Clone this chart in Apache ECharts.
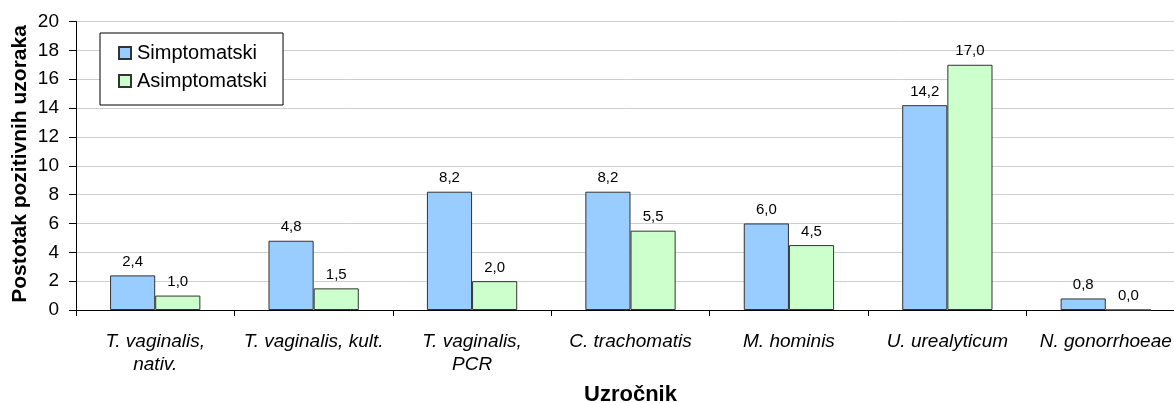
<!DOCTYPE html>
<html>
<head>
<meta charset="utf-8">
<script src="https://cdn.jsdelivr.net/npm/echarts@6/dist/echarts.min.js"></script>
<style>
  html, body { margin: 0; padding: 0; background: #fff; }
  #chart { width: 1174px; height: 403px; }
</style>
</head>
<body>
<div id="chart"></div>
<script>
// Pathogen categories and percentage of positive samples per group
const categories = [
  'T. vaginalis,\nnativ.',
  'T. vaginalis, kult.',
  'T. vaginalis,\nPCR',
  'C. trachomatis',
  'M. hominis',
  'U. urealyticum',
  'N. gonorrhoeae'
];
const simptomatski = [2.4, 4.8, 8.2, 8.2, 6.0, 14.2, 0.8];
const asimptomatski = [1.0, 1.5, 2.0, 5.5, 4.5, 17.0, 0.0];
const yTicks = { min: 0, max: 20, interval: 2 };
const yTitle = 'Postotak pozitivnih uzoraka';
const xTitle = 'Uzročnik';

const font = '"Liberation Sans", Arial, sans-serif';
const fmt = p => p.value.toFixed(1).replace('.', ',');

const chart = echarts.init(document.getElementById('chart'), null, { renderer: 'canvas' });
chart.setOption({
  animation: false,
  textStyle: { fontFamily: font },
  // plot area runs slightly past the right edge of the page
  grid: { left: 76, width: 1109, top: 21.5, bottom: 93, containLabel: false, outerBoundsMode: 'none' },
  // vertical axis title, placed beside the tick labels
  graphic: [{
    type: 'text',
    x: 20, y: 164,
    rotation: Math.PI / 2,
    style: {
      text: yTitle,
      fontFamily: font, fontSize: 21, fontWeight: 'bold', fill: '#000',
      textAlign: 'center', textVerticalAlign: 'middle'
    }
  }],
  legend: {
    left: 100, top: 33,
    orient: 'vertical',
    padding: [10, 16, 14, 18],
    itemGap: 8,
    itemWidth: 12, itemHeight: 12,
    borderColor: '#000', borderWidth: 1,
    backgroundColor: '#fff',
    textStyle: { fontFamily: font, fontSize: 20, color: '#000', padding: [0, 0, 0, 1] },
    data: [
      { name: 'Simptomatski', icon: 'rect' },
      { name: 'Asimptomatski', icon: 'rect' }
    ]
  },
  xAxis: {
    type: 'category',
    data: categories,
    name: xTitle,
    nameLocation: 'middle',
    nameGap: 74,
    nameTextStyle: { fontFamily: font, fontSize: 22, fontWeight: 'bold', color: '#000' },
    axisLine: { lineStyle: { color: '#000', width: 1 } },
    axisTick: { show: true, length: 6, lineStyle: { color: '#000' } },
    axisLabel: {
      fontFamily: font, fontSize: 19, fontStyle: 'italic', color: '#000',
      margin: 20, lineHeight: 23, interval: 0
    }
  },
  yAxis: {
    type: 'value',
    min: yTicks.min, max: yTicks.max, interval: yTicks.interval,
    axisLine: { show: true, lineStyle: { color: '#000', width: 1 } },
    axisTick: { show: true, length: 7, lineStyle: { color: '#000' } },
    axisLabel: { fontFamily: font, fontSize: 19, color: '#000', margin: 17 },
    splitLine: { lineStyle: { color: '#cfcfcf', width: 1 } }
  },
  series: [
    {
      name: 'Simptomatski',
      type: 'bar',
      data: simptomatski,
      barGap: '0%',
      barCategoryGap: '43%',
      itemStyle: { color: '#99CCFF', borderColor: '#333', borderWidth: 1 },
      label: { show: true, position: 'top', distance: 6, formatter: fmt, fontFamily: font, fontSize: 15, color: '#000' }
    },
    {
      name: 'Asimptomatski',
      type: 'bar',
      data: asimptomatski,
      itemStyle: { color: '#CCFFCC', borderColor: '#333', borderWidth: 1 },
      label: { show: true, position: 'top', distance: 6, formatter: fmt, fontFamily: font, fontSize: 15, color: '#000' }
    }
  ]
});
</script>
</body>
</html>
